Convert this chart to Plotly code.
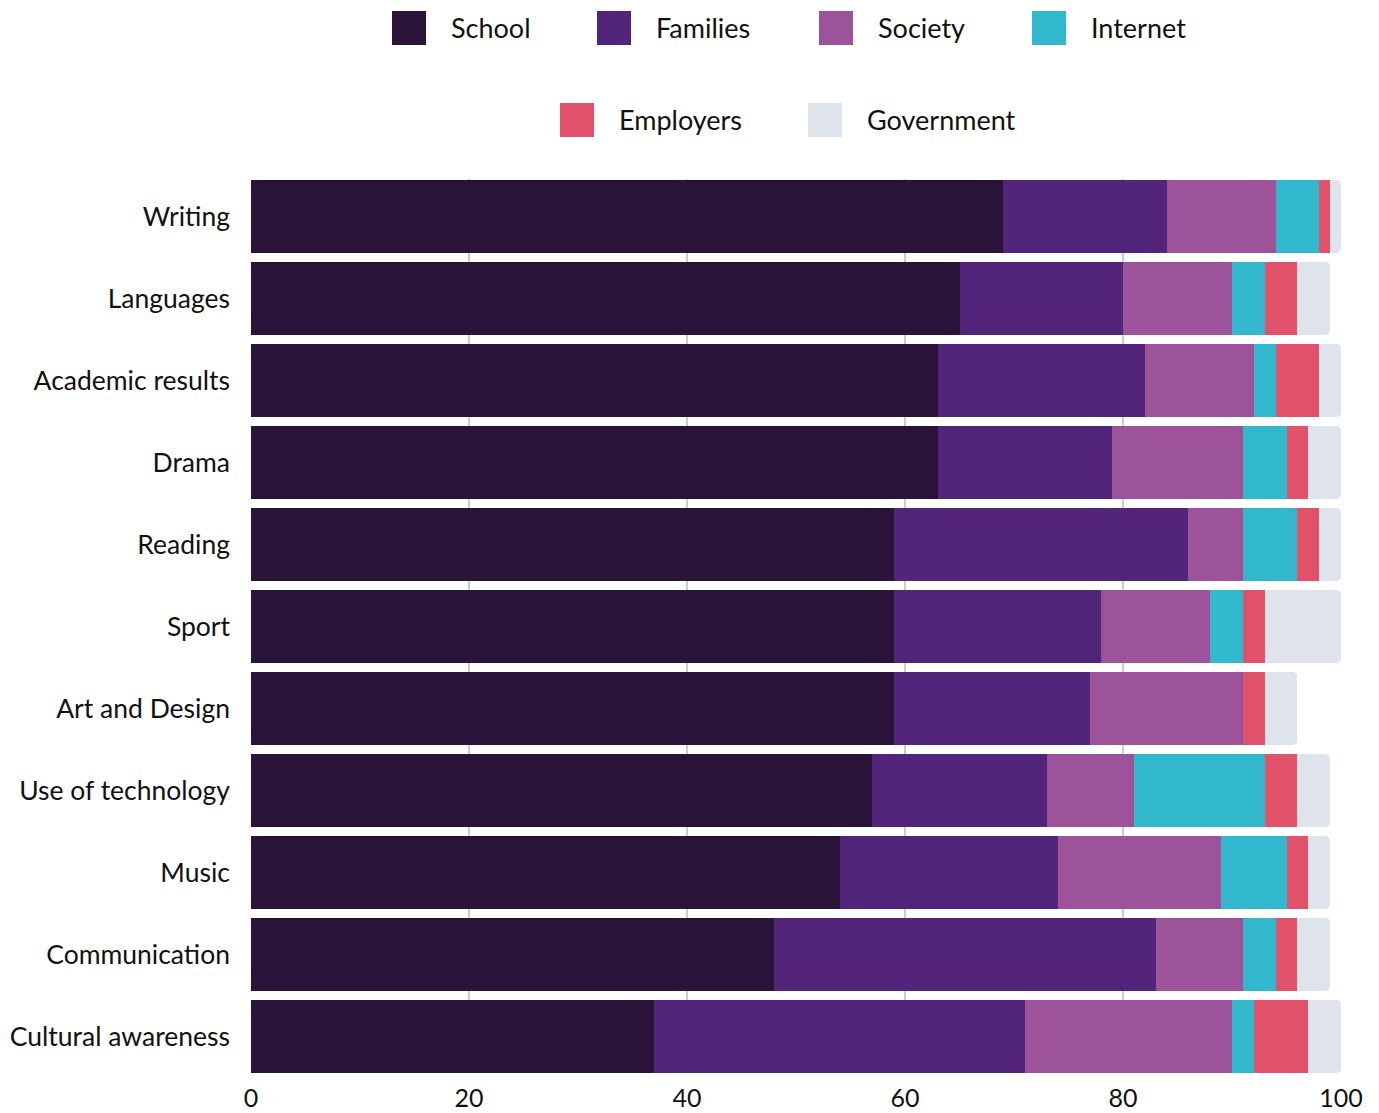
import plotly.graph_objects as go

# Stacked shares (percent) of who is seen as responsible for each skill area
categories = ["Writing", "Languages", "Academic results", "Drama", "Reading", "Sport",
              "Art and Design", "Use of technology", "Music", "Communication",
              "Cultural awareness"]

school     = [69, 65, 63, 63, 59, 59, 59, 57, 54, 48, 37]
families   = [15, 15, 19, 16, 27, 19, 18, 16, 20, 35, 34]
society    = [10, 10, 10, 12, 5, 10, 14, 8, 15, 8, 19]
internet   = [4, 3, 2, 4, 5, 3, 0, 12, 6, 3, 2]
employers  = [1, 3, 4, 2, 2, 2, 2, 3, 2, 2, 5]
government = [1, 3, 2, 3, 2, 7, 3, 3, 2, 3, 3]

series_names = ["School", "Families", "Society", "Internet", "Employers", "Government"]
series_values = [school, families, society, internet, employers, government]
colors = ["#2a1339", "#52257a", "#9d5399", "#31b8cc", "#e1516a", "#dfe3ec"]

x_ticks = [0, 20, 40, 60, 80, 100]

FONT = "Lato, 'Source Sans Pro', 'Noto Sans', sans-serif"

fig = go.Figure()
for name, vals, col in zip(series_names, series_values, colors):
    fig.add_trace(go.Bar(
        y=categories, x=vals, name=name, orientation="h",
        marker=dict(color=col, line=dict(width=0)),
        showlegend=False,
    ))

W, H = 1379, 1113
L, R, T, B = 251, 38, 179, 40
pw, ph = W - L - R, H - T - B


def px_x(p):
    return (p - L) / pw


def px_y(p):
    return (H - B - p) / ph


# Legend drawn as colored squares with labels, two centered rows
legend_rows = [
    [(0, 392, 28), (1, 597, 28), (2, 819, 28), (3, 1032, 28)],
    [(4, 560, 120), (5, 808, 120)],
]
shapes = []
annotations = []
for row in legend_rows:
    for idx, x0, yc in row:
        shapes.append(dict(
            type="rect", xref="paper", yref="paper",
            x0=px_x(x0), x1=px_x(x0 + 34), y0=px_y(yc + 17), y1=px_y(yc - 17),
            fillcolor=colors[idx], line=dict(width=0), layer="above",
        ))
        annotations.append(dict(
            xref="paper", yref="paper", x=px_x(x0 + 57), y=px_y(yc - 1),
            xanchor="left", yanchor="middle", showarrow=False,
            text=series_names[idx], font=dict(family=FONT, size=27, color="#111111"),
        ))

fig.update_layout(
    barmode="stack",
    bargap=0.11,
    barcornerradius=5,
    width=W, height=H,
    margin=dict(l=L, r=R, t=T, b=B, autoexpand=False),
    paper_bgcolor="white",
    plot_bgcolor="white",
    font=dict(family=FONT, size=24, color="#111111"),
    shapes=shapes,
    annotations=annotations,
    xaxis=dict(
        range=[0, 100], tickvals=x_ticks, ticktext=[str(v) for v in x_ticks],
        showgrid=True, gridcolor="#cccccc", gridwidth=2,
        zeroline=False, showline=False, ticks="", ticklabelstandoff=8,
        tickfont=dict(size=25),
        layer="below traces",
    ),
    yaxis=dict(
        categoryorder="array", categoryarray=categories,
        range=[10.445, -0.457],
        showgrid=False, zeroline=False, showline=False, ticks="",
        ticklabelstandoff=20, tickfont=dict(size=26.5),
    ),
)

fig.write_html("out.html")
